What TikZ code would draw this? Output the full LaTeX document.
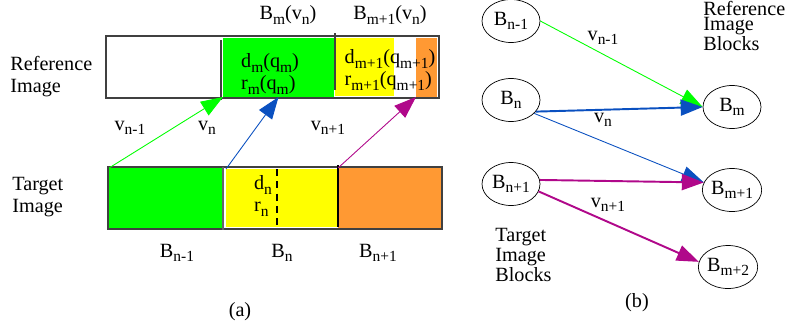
\documentclass[tikz,border=0pt]{standalone}
\usepackage{fontspec}
\setmainfont{Liberation Serif}
\usetikzlibrary{positioning,arrows.meta,shapes.geometric}
\definecolor{mvgreen}{HTML}{00FF00}
\definecolor{mvyellow}{HTML}{FFFF00}
\definecolor{mvorange}{HTML}{FF9933}
\definecolor{mvblue}{HTML}{0A50C0}
\definecolor{mvmagenta}{HTML}{B0088A}
\newcommand{\dn}[1]{\raisebox{-0.45ex}{\fontsize{8.8}{9}\selectfont #1}}

\begin{document}
\begin{tikzpicture}[
x=0.02cm, y=-0.02cm,
font=\fontsize{11.5}{12.5}\selectfont,
frame/.style={draw=black!75, line width=0.7pt, inner sep=0pt, outer sep=0pt},
blk/.style={inner sep=0pt, outer sep=0pt},
txt/.style={inner sep=0pt, align=left},
tight/.style={inner sep=0pt, align=left, font=\fontsize{11.5}{8.7}\selectfont},
blob/.style={ellipse, draw, thin, minimum width=1.16cm, minimum height=0.86cm, inner sep=0pt},
vec/.style={-{Triangle[length=0.44cm,width=0.32cm]}, line width=0.5pt},
vecb/.style={vec, line width=1.1pt}
]
\useasboundingbox (0,0) rectangle (787,335);

% (a) reference image
\node[frame, minimum width=6.66cm, minimum height=1.24cm] (refimg) at (272.5,67) {};
\node[blk, fill=mvgreen, minimum width=2.22cm, minimum height=1.18cm] (rbm) at (278.5,67.5) {};
\node[blk, fill=mvyellow, minimum width=1.18cm, minimum height=1.16cm] (rbm1) at (364.5,67) {};
\node[blk, fill=mvorange, minimum width=0.42cm, minimum height=1.18cm] (rorg) at (426.5,67.5) {};
\draw[black!75, line width=0.7pt] (221,40) -- (221,100);
\draw[black!75, line width=0.7pt] (335,33) -- (335,90);
\node[txt] (lbm) at (288,15) {B\dn{m}(v\dn{n})};
\node[txt] (lbm1) at (390,15) {B\dn{m+1}(v\dn{n})};
\node[txt, anchor=west] (lref) at (10,77) {Reference\\Image};
\node[txt] (dm) at (270,74) {d\dn{m}(q\dn{m})\\r\dn{m}(q\dn{m})};
\node[txt] (dm1) at (390,70) {d\dn{m+1}(q\dn{m+1})\\r\dn{m+1}(q\dn{m+1})};

% (a) target image
\node[frame, minimum width=6.68cm, minimum height=1.24cm] (tgtimg) at (275,198) {};
\node[blk, fill=mvgreen, minimum width=2.26cm, minimum height=1.2cm] (tb1) at (165.5,198) {};
\node[blk, fill=mvyellow, minimum width=2.24cm, minimum height=1.16cm] (tb2) at (282,198) {};
\node[blk, fill=mvorange, minimum width=2.06cm, minimum height=1.2cm] (tb3) at (389.5,198) {};
\draw[black!60, line width=1pt] (223,167) -- (223,230);
\draw[black, line width=0.6pt] (338,165) -- (338,227);
\draw[black, line width=0.6pt, dash pattern=on 4pt off 3pt] (277,169) -- (277,230);
\node[txt, anchor=west] (ltgt) at (12,197) {Target\\Image};
\node[txt] (dn) at (263,196) {d\dn{n}\\r\dn{n}};
\node[txt] (lbn1) at (177,253) {B\dn{n-1}};
\node[txt] (lbn) at (282,253) {B\dn{n}};
\node[txt] (lbn2) at (378,253) {B\dn{n+1}};

% (a) motion vectors
\draw[vec, mvgreen] (tb1.north west) -- (rbm.south west);
\draw[vec, mvblue] (tb2.north west) -- (rbm.south);
\draw[vec, mvmagenta] (tb3.north west) -- (rorg.south west);
\node[txt] (va1) at (130,128) {v\dn{n-1}};
\node[txt] (va2) at (207,128) {v\dn{n}};
\node[txt] (va3) at (328,128) {v\dn{n+1}};
\node[txt] (capa) at (240,312) {(a)};

% (b) block graph
\node[blob] (bnm1) at (511,21) {B\dn{n-1}};
\node[blob] (bn) at (511,100) {B\dn{n}};
\node[blob] (bnp1) at (511,184) {B\dn{n+1}};
\node[blob] (bm) at (732,107) {B\dn{m}};
\node[blob] (bm1) at (732,190) {B\dn{m+1}};
\node[blob] (bm2) at (728,267) {B\dn{m+2}};

\draw[vec, mvgreen] (bnm1.east) -- (bm.west);
\draw[vec, mvblue] (bn.-30) -- (bm1.165);
\draw[vecb, mvblue] (bn.-25) -- (bm.west);
\draw[vecb, mvmagenta] (bnp1.8) -- (bm1.165);
\draw[vecb, mvmagenta] (bnp1.-15) -- (bm2.170);
\node[txt] (vb1) at (603,38) {v\dn{n-1}};
\node[txt] (vb2) at (603,120) {v\dn{n}};
\node[txt] (vb3) at (608,205) {v\dn{n+1}};

\node[tight, anchor=west] (lrefb) at (703,26) {Reference\\Image\\Blocks};
\node[tight, anchor=west] (ltgtb) at (495,255) {Target\\Image\\Blocks};
\node[txt] (capb) at (637,303) {(b)};
\end{tikzpicture}
\end{document}
